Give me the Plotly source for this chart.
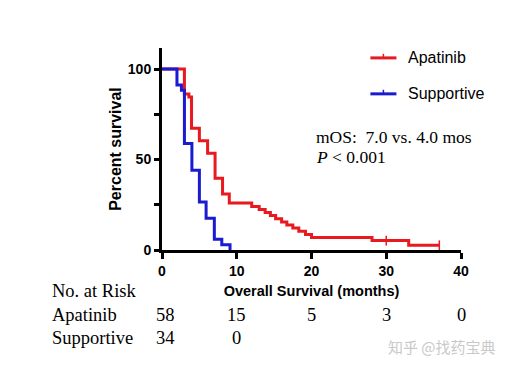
import plotly.graph_objects as go

# Kaplan-Meier step data (months, percent survival)
apatinib_t = [0, 3.0, 3.6, 3.95, 5.0, 6.1, 7.1, 8.1, 9.0, 12.0, 13.0, 13.8, 14.5, 15.2,
              16.0, 16.7, 17.5, 18.3, 19.2, 20.0, 28.1, 33.0, 37.1]
apatinib_s = [100, 86.2, 84.5, 67.2, 60.3, 53.4, 39.7, 31.0, 25.9, 24.1, 22.4, 20.7, 19.0,
              17.2, 15.5, 13.8, 12.1, 10.3, 8.6, 6.9, 5.2, 2.6, 2.6]
apatinib_censor_t = [30.0, 37.1]
apatinib_censor_s = [5.2, 2.6]

supportive_t = [0, 2.0, 2.6, 3.0, 4.0, 5.0, 5.9, 7.0, 8.0, 9.1]
supportive_s = [100, 91.2, 88.2, 58.8, 44.1, 26.5, 17.6, 5.9, 2.9, 0]

x_ticks = [0, 10, 20, 30, 40]
y_ticks = [0, 25, 50, 75, 100]
y_tick_labels = ["0", "", "50", "", "100"]

risk_x = [0.5, 10, 20, 30, 40]
risk_apatinib = ["58", "15", "5", "3", "0"]
risk_supportive = ["34", "0"]

RED = "#e8191f"
BLUE = "#1a1ad0"
SANS = "Liberation Sans, Arial, sans-serif"
SERIF = "Liberation Serif, Times New Roman, serif"

fig = go.Figure()
fig.add_trace(go.Scatter(x=apatinib_t, y=apatinib_s, mode="lines", line_shape="hv",
                         line=dict(color=RED, width=3), name="Apatinib", showlegend=False))
fig.add_trace(go.Scatter(x=apatinib_censor_t, y=apatinib_censor_s, mode="markers",
                         marker=dict(symbol="line-ns", size=7, line=dict(color=RED, width=1.5)),
                         showlegend=False))
fig.add_trace(go.Scatter(x=supportive_t, y=supportive_s, mode="lines", line_shape="hv",
                         line=dict(color=BLUE, width=3), name="Supportive", showlegend=False))

fig.update_xaxes(range=[0, 40], tickvals=x_ticks, ticks="outside", ticklen=6, tickwidth=2.5,
                 tickcolor="black", showline=True, linecolor="black", linewidth=3,
                 showgrid=False, zeroline=False,
                 tickfont=dict(family=SANS, size=14, color="black", weight="bold"),
                 title=dict(text="<b>Overall Survival (months)</b>", standoff=9,
                            font=dict(family=SANS, size=14.5, color="black")))
fig.update_yaxes(range=[0, 111.6], tickvals=y_ticks, ticktext=y_tick_labels, ticks="outside",
                 ticklen=5, tickwidth=2.5, tickcolor="black", showline=True, linecolor="black",
                 linewidth=3, showgrid=False, zeroline=False,
                 tickfont=dict(family=SANS, size=14, color="black", weight="bold"),
                 title=dict(text="<b>Percent survival</b>", standoff=3,
                            font=dict(family=SANS, size=16, color="black")))

# legend drawn manually
legend_items = [("Apatinib", RED, 0.951), ("Supportive", BLUE, 0.773)]
for name, col, yp in legend_items:
    fig.add_shape(type="line", xref="paper", yref="paper", x0=0.697, x1=0.784, y0=yp, y1=yp,
                  line=dict(color=col, width=3))
    fig.add_shape(type="line", xref="paper", yref="paper", x0=0.7405, x1=0.7405,
                  y0=yp, y1=yp + 0.02, line=dict(color=col, width=1.5))
    fig.add_annotation(xref="paper", yref="paper", x=0.815, y=yp, text=name, showarrow=False,
                       xanchor="left", yanchor="middle",
                       font=dict(family=SANS, size=16, color="black"))

fig.add_annotation(xref="paper", yref="paper", x=0.507, y=0.560,
                   text="mOS:  7.0 vs. 4.0 mos", showarrow=False, xanchor="left",
                   yanchor="middle", font=dict(family=SERIF, size=17.5, color="black"))
fig.add_annotation(xref="paper", yref="paper", x=0.507, y=0.462,
                   text="<i>P</i> < 0.001", showarrow=False, xanchor="left",
                   yanchor="middle", font=dict(family=SERIF, size=17.5, color="black"))

# number at risk table
row_y = {"head": -0.203, "apa": -0.322, "sup": -0.435}
fig.add_annotation(xref="paper", yref="paper", x=-0.374, y=row_y["head"], text="No. at Risk",
                   showarrow=False, xanchor="left", yanchor="middle",
                   font=dict(family=SERIF, size=18.5, color="black"))
fig.add_annotation(xref="paper", yref="paper", x=-0.374, y=row_y["apa"], text="Apatinib",
                   showarrow=False, xanchor="left", yanchor="middle",
                   font=dict(family=SERIF, size=18.5, color="black"))
fig.add_annotation(xref="paper", yref="paper", x=-0.374, y=row_y["sup"], text="Supportive",
                   showarrow=False, xanchor="left", yanchor="middle",
                   font=dict(family=SERIF, size=18.5, color="black"))
for xv, txt in zip(risk_x, risk_apatinib):
    fig.add_annotation(xref="x", yref="paper", x=xv, y=row_y["apa"], text=txt, showarrow=False,
                       xanchor="center", yanchor="middle",
                       font=dict(family=SERIF, size=18.5, color="black"))
for xv, txt in zip(risk_x, risk_supportive):
    fig.add_annotation(xref="x", yref="paper", x=xv, y=row_y["sup"], text=txt, showarrow=False,
                       xanchor="center", yanchor="middle",
                       font=dict(family=SERIF, size=18.5, color="black"))

# watermark
fig.add_annotation(xref="paper", yref="paper", x=0.937, y=-0.477, text="知乎 @找药宝典",
                   showarrow=False, xanchor="center", yanchor="middle",
                   font=dict(family="Noto Sans CJK SC", size=15, color="#c9c9c9"))

# page body has an 8px margin, so the figure is sized to fit inside the window
fig.update_layout(width=502, height=360, margin=dict(l=153.5, r=49, t=40, b=117.5),
                  paper_bgcolor="white", plot_bgcolor="white", showlegend=False)

fig.write_html("out.html")
